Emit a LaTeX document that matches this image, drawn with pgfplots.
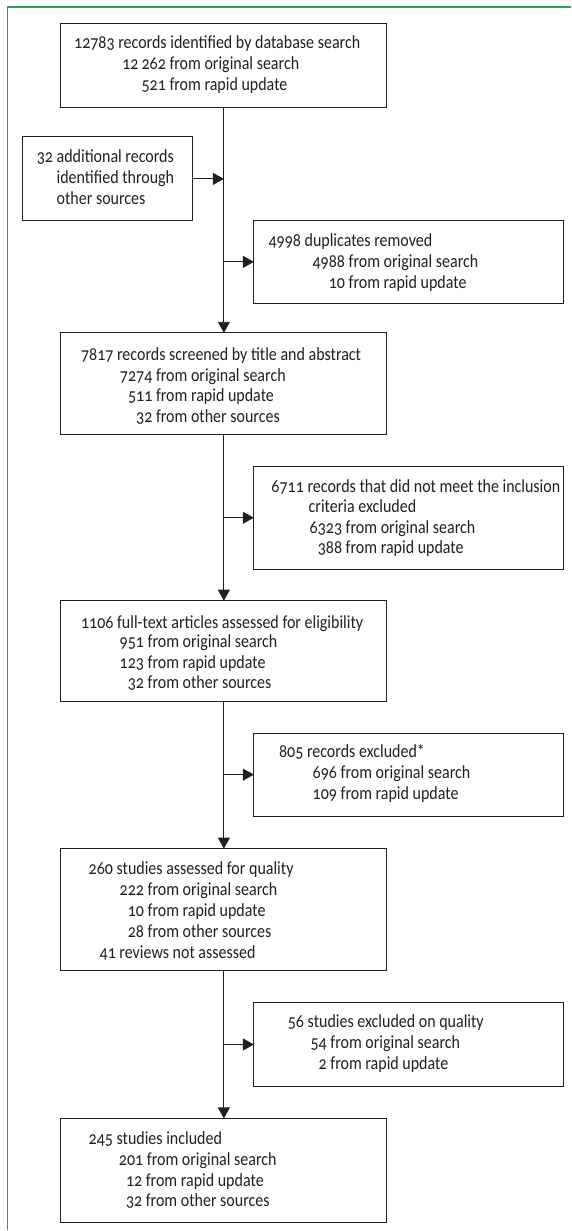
\documentclass[border=0pt]{standalone}
\usepackage{pgfplots}
\pgfplotsset{compat=1.18}
\usetikzlibrary{arrows.meta}
\usepackage{fontspec}
\setmainfont[Numbers=OldStyle,FakeStretch=0.865]{Carlito}
\definecolor{frameg}{HTML}{2E9E5B}
\definecolor{ink}{HTML}{231F20}
\newcommand{\T}[3]{\node[anchor=base west,inner sep=0pt,text=ink] at (axis cs:#1,#2) {#3};}
\newcommand{\Bx}[4]{\draw[ink,line width=0.9pt] (axis cs:#1,#2) rectangle (axis cs:#3,#4);}
\newcommand{\Ar}[4]{\draw[ink,line width=0.9pt,-{Triangle[length=11pt,width=12pt]}] (axis cs:#1,#2) -- (axis cs:#3,#4);}
\begin{document}
\begin{tikzpicture}
\begin{axis}[x=1pt,y=1pt,y dir=reverse,xmin=0,xmax=571,ymin=0,ymax=1231,
  hide axis,scale only axis,clip=false]
\path (axis cs:0,0) rectangle (axis cs:571,1231);
\fontsize{18.5}{21}\selectfont
% frame
\draw[frameg,line width=1.2pt] (axis cs:7.5,1231) -- (axis cs:7.5,7) -- (axis cs:571,7);
% boxes
\Bx{60}{23}{387}{107}
\Bx{22.6}{137}{193}{221}
\Bx{254}{221}{564}{304}
\Bx{60}{333}{387}{435}
\Bx{254}{467}{564}{570}
\Bx{60}{601}{387}{702}
\Bx{254}{734}{564}{817}
\Bx{60}{849}{387}{971}
\Bx{254}{1003}{564}{1087}
\Bx{60}{1119}{387}{1223}
% arrows
\Ar{224}{107}{224}{333}
\Ar{224}{435}{224}{601}
\Ar{224}{702}{224}{849}
\Ar{224}{971}{224}{1119}
\Ar{193}{179}{224}{179}
\Ar{224}{262}{254}{262}
\Ar{224}{518}{254}{518}
\Ar{224}{775}{254}{775}
\Ar{224}{1045}{254}{1045}
% texts box 1
\T{74}{48.7}{12783 records identified by database search}
\T{169.4}{69.3}{\llap{12\,262\ }from original search}
\T{169.4}{90.3}{\llap{521\ }from rapid update}
% left box
\T{56.5}{162.7}{\llap{32\ }additional records}
\T{56.5}{183.7}{identified through}
\T{56.5}{204.3}{other sources}
% duplicates
\T{268.5}{246.7}{4998 duplicates removed}
\T{348.6}{267.7}{\llap{4988\ }from original search}
\T{348.6}{288.3}{\llap{10\ }from rapid update}
% box 2
\T{80.9}{360.7}{7817 records screened by title and abstract}
\T{155.9}{381.7}{\llap{7274\ }from original search}
\T{155.9}{401.7}{\llap{511\ }from rapid update}
\T{155.9}{422.7}{\llap{32\ }from other sources}
% excl 2
\T{271.4}{492.7}{6711 records that did not meet the inclusion}
\T{308.6}{512.3}{criteria excluded}
\T{345.7}{533.3}{\llap{6323\ }from original search}
\T{345.7}{554}{\llap{388\ }from rapid update}
% box 3
\T{80.9}{628.3}{1106 full-text articles assessed for eligibility}
\T{147.5}{648.3}{\llap{951\ }from original search}
\T{147.5}{669}{\llap{123\ }from rapid update}
\T{147.5}{689.3}{\llap{32\ }from other sources}
% excl 3
\T{279}{758.3}{805 records excluded*}
\T{340.6}{779.3}{\llap{696\ }from original search}
\T{340.6}{800.3}{\llap{109\ }from rapid update}
% box 4
\T{88.5}{875}{260 studies assessed for quality}
\T{147.5}{896}{\llap{222\ }from original search}
\T{147.5}{916.7}{\llap{10\ }from rapid update}
\T{147.5}{937.7}{\llap{28\ }from other sources}
\T{99.5}{959}{41 reviews not assessed}
% excl 4
\T{287.8}{1028.3}{56 studies excluded on quality}
\T{330.4}{1049.3}{\llap{54\ }from original search}
\T{330.4}{1070}{\llap{2\ }from rapid update}
% box 5
\T{88.5}{1145}{245 studies included}
\T{146.8}{1166}{\llap{201\ }from original search}
\T{145.7}{1186.7}{\llap{12\ }from rapid update}
\T{145.7}{1207.3}{\llap{32\ }from other sources}
\end{axis}
\end{tikzpicture}
\end{document}
